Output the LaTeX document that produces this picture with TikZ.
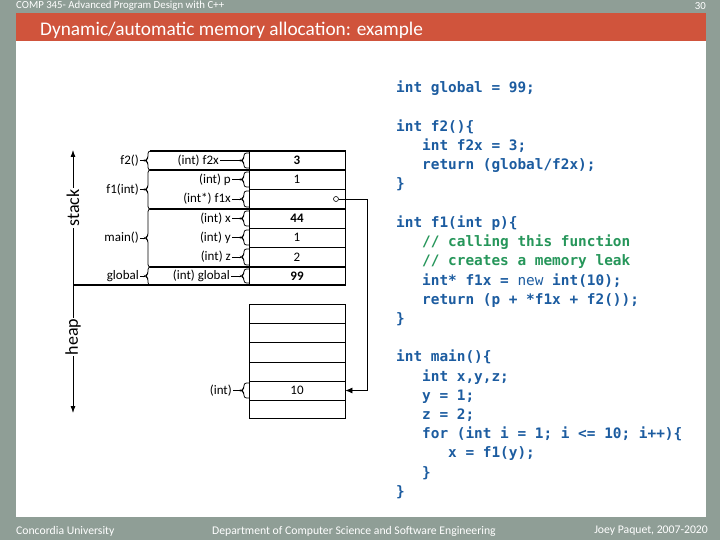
\documentclass[tikz,border=0pt]{standalone}
\usepackage{fontspec}
\setmainfont{Carlito}
\newfontfamily\codefont{DejaVu Sans Mono}
\usetikzlibrary{arrows.meta}

\definecolor{slidegray}{RGB}{143,158,150}
\definecolor{titlered}{RGB}{208,84,60}
\definecolor{codeblue}{RGB}{28,92,160}
\definecolor{codegreen}{RGB}{38,150,90}

\tikzset{
  cell/.style={draw, line width=0.8pt, minimum width=96pt, inner sep=0pt, font=\fontsize{13}{15}\selectfont},
  lbl/.style={inner sep=1pt, font=\fontsize{13}{15}\selectfont},
  sep/.style={line width=2pt},
  brace/.style={line width=0.8pt, rounded corners=2.5pt},
  code/.style={anchor=base west, inner sep=0pt, text=codeblue, font=\codefont\bfseries\fontsize{14.4}{17}\selectfont},
  comment/.style={code, text=codegreen},
  axis/.style={line width=0.8pt, {Latex[length=7pt,width=5pt]}-{Latex[length=7pt,width=5pt]}},
  axislbl/.style={fill=white, rotate=90, inner sep=1pt, font=\fontsize{18}{20}\selectfont},
  slidetxt/.style={inner sep=0pt, text=white, font=\fontsize{10.8}{13}\selectfont}
}

% name, x, top, bottom, arm
\newcommand{\grpbrace}[5]{%
  \draw[brace] ({#2+#5},#3) -- (#2,#3) -- (#2,{(#3+#4)/2-2}) -- ({#2-3},{(#3+#4)/2})
    -- (#2,{(#3+#4)/2+2}) -- (#2,#4) -- ({#2+#5},#4);
  \coordinate (#1) at ({#2-3},{(#3+#4)/2});}

\begin{document}
\begin{tikzpicture}[x=1pt,y=-1pt]
\useasboundingbox (0,0) rectangle (720,540);
% slide frame
\fill[slidegray] (0,0) rectangle (720,540);
\fill[white] (16,41) rectangle (706,517);
\fill[titlered] (16,13) rectangle (706,41);
\node[slidetxt, anchor=west] (course) at (16,6) {COMP 345- Advanced Program Design with C++};
\node[slidetxt, anchor=east] (page) at (706,6) {30};
\node[slidetxt, anchor=base west, font=\fontsize{19.3}{23}\selectfont] (title) at (40,36) {Dynamic/automatic memory allocation: example};
\node[slidetxt, anchor=west, font=\fontsize{11.7}{13}\selectfont] (univ) at (16,531) {Concordia University};
\node[slidetxt, anchor=west, font=\fontsize{11.7}{13}\selectfont] (dept) at (212,531) {Department of Computer Science and Software Engineering};
\node[slidetxt, anchor=east, font=\fontsize{11.7}{13}\selectfont] (author) at (708,531) {Joey Paquet, 2007-2020};

% stack cells
\foreach \n/\t/\b/\v/\l/\e in {f2x/151/170/{\bfseries 3}/{(int) f2x}/220,
    p/170/189/1/{(int) p}/232, fx/189/209/{}/{(int*) f1x}/232,
    x/209/228/{\bfseries 44}/{(int) x}/232, y/228/247/1/{(int) y}/232,
    z/247/267/2/{(int) z}/232, glob/267/285/{\bfseries 99}/{(int) global}/231} {
  \node[cell, minimum height={\b-\t}] (\n) at (297,{(\t+\b)/2}) {\v};
  \grpbrace{\n-b}{244}{\t+2}{\b-2}{5}
  \node[lbl, anchor=east] (\n-l) at (\e,{(\t+\b)/2}) {\l};
  \draw[line width=0.8pt] (\n-l.east) -- (\n-b);
}

% frames
\foreach \n/\t/\b/\l in {f2/151/170/{f2()}, f1/170/209/{f1(int)},
    main/209/267/{main()}, gl/267/285/global} {
  \grpbrace{\n-b}{148}{\t}{\b}{8}
  \node[lbl, anchor=east] (\n-l) at (140,{(\t+\b)/2}) {\l};
  \draw[line width=0.8pt] (\n-l.east) -- (\n-b);
}
\foreach \y in {151,170,209,267}
  \draw[sep] (150,\y) -- (346,\y);

% heap cells
\foreach \i/\t/\b/\v in {1/304/323/{}, 2/323/342/{}, 3/342/362/{},
    4/362/381/{}, 5/381/400/10, 6/400/418/{}}
  \node[cell, minimum height={\b-\t}] (h\i) at (297,{(\t+\b)/2}) {\v};
\grpbrace{h-b}{244}{383}{398}{5}
\node[lbl, anchor=east] (h-l) at (233,390.5) {(int)};
\draw[line width=0.8pt] (h-l.east) -- (h-b);

% stack/heap axis
\coordinate (stacktop) at (73,150);
\coordinate (heapbot) at (73,413);
\coordinate (base) at (73,285);
\coordinate (baseend) at (346,285);
\draw[axis] (stacktop) -- (heapbot);
\draw[sep] (base) -- (baseend);
\node[axislbl] (stacklbl) at (73,208) {stack};
\node[axislbl] (heaplbl) at (73,337) {heap};

% pointer f1x -> heap
\node[circle, draw, line width=0.6pt, inner sep=0pt, minimum size=5pt] (ptr) at (336,199) {};
\coordinate (bend) at (367,199);
\draw[line width=0.8pt, -{Latex[length=7pt,width=6pt]}] (ptr.east) -- (bend) |- (h5.east);

% code
\node[code] (c0) at (396,93) {int global = 99;};
\node[code] (c2) at (396,131.4) {int f2()\{};
\node[code] (c3) at (422,150.6) {int f2x = 3;};
\node[code] (c4) at (422,169.8) {return (global/f2x);};
\node[code] (c5) at (396,189) {\}};
\node[code] (c7) at (396,227.4) {int f1(int p)\{};
\node[comment] (c8) at (422,246.6) {// calling this function};
\node[comment] (c9) at (422,265.8) {// creates a memory leak};
\node[code] (c10) at (422,285) {int* f1x = {\mdseries new} int(10);};
\node[code] (c11) at (422,304.2) {return (p + *f1x + f2());};
\node[code] (c12) at (396,323.4) {\}};
\node[code] (c14) at (396,361.8) {int main()\{};
\node[code] (c15) at (422,381) {int x,y,z;};
\node[code] (c16) at (422,400.2) {y = 1;};
\node[code] (c17) at (422,419.4) {z = 2;};
\node[code] (c18) at (422,438.6) {for (int i = 1; i <= 10; i++)\{};
\node[code] (c19) at (448,457.8) {x = f1(y);};
\node[code] (c20) at (422,477) {\}};
\node[code] (c21) at (396,496.2) {\}};
\end{tikzpicture}
\end{document}
